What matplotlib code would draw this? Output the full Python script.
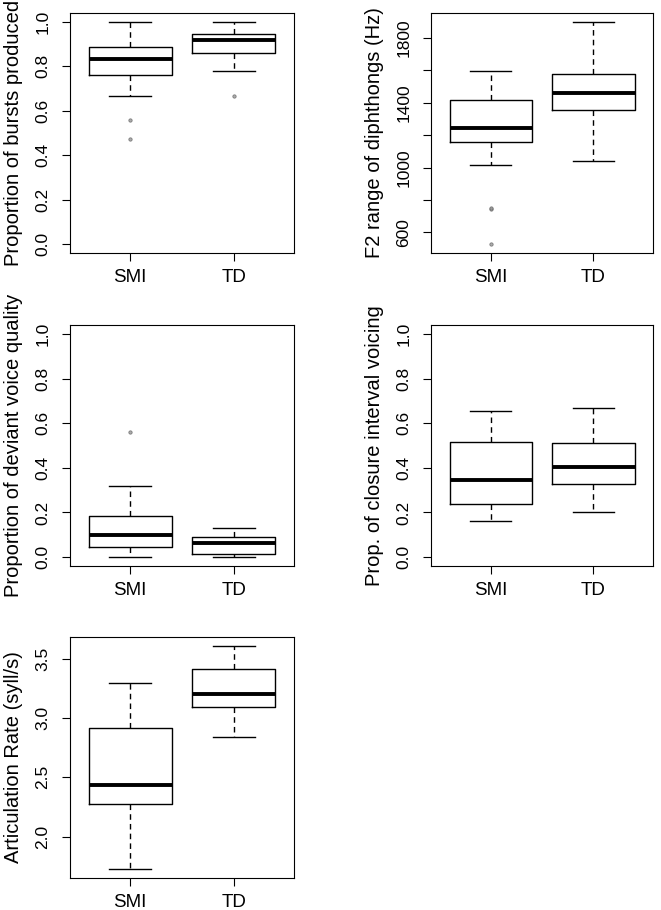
"""Boxplots of speech measures, SMI vs TD groups."""

import matplotlib

matplotlib.use("Agg")
import matplotlib.pyplot as plt

GROUPS = ["SMI", "TD"]

# lower whisker, Q1, median, Q3, upper whisker
bursts_smi = [0.666, 0.763, 0.831, 0.886, 1.0]
bursts_td = [0.781, 0.861, 0.917, 0.946, 1.0]
bursts_out_smi = [0.558, 0.475]
bursts_out_td = [0.666]

f2_smi = [1018, 1157, 1245, 1418, 1598]
f2_td = [1041, 1355, 1463, 1579, 1899]
f2_out_smi = [745, 747, 526]
f2_out_td = []

voice_smi = [0.0, 0.045, 0.098, 0.182, 0.319]
voice_td = [0.0, 0.015, 0.065, 0.090, 0.130]
voice_out_smi = [0.562]
voice_out_td = []

closure_smi = [0.161, 0.240, 0.346, 0.516, 0.654]
closure_td = [0.201, 0.326, 0.405, 0.510, 0.666]
closure_out_smi = []
closure_out_td = []

artic_smi = [1.726, 2.271, 2.432, 2.913, 3.30]
artic_td = [2.839, 3.096, 3.203, 3.413, 3.61]
artic_out_smi = []
artic_out_td = []

prop_ticks = [0.0, 0.2, 0.4, 0.6, 0.8, 1.0]
prop_labels = ["0.0", "0.2", "0.4", "0.6", "0.8", "1.0"]
f2_ticks = [600, 800, 1000, 1200, 1400, 1600, 1800]
f2_labels = ["600", "", "1000", "", "1400", "", "1800"]
artic_ticks = [2.0, 2.5, 3.0, 3.5]
artic_labels = ["2.0", "2.5", "3.0", "3.5"]

FONT = ["Liberation Sans", "DejaVu Sans"]
W, H = 661, 910


def to_stats(summary, fliers, label):
    lo, q1, med, q3, hi = summary
    return {"whislo": lo, "q1": q1, "med": med, "q3": q3, "whishi": hi,
            "fliers": fliers, "label": label}


def draw_panel(ax, summaries, outliers, ylabel, ylim, ticks, labels):
    stats = [to_stats(s, o, g) for s, o, g in zip(summaries, outliers, GROUPS)]
    ax.bxp(
        stats,
        positions=[1, 2],
        widths=0.8,
        boxprops={"color": "black", "linewidth": 1.0},
        whiskerprops={"color": "black", "linewidth": 1.0, "linestyle": (0, (4, 3))},
        capprops={"color": "black", "linewidth": 1.0},
        medianprops={"color": "black", "linewidth": 2.8, "solid_capstyle": "butt"},
        flierprops={"marker": "o", "markersize": 2.4, "markerfacecolor": "#999999",
                    "markeredgecolor": "#666666", "markeredgewidth": 0.6, "alpha": 0.8},
        manage_ticks=False,
    )
    ax.set_xlim(0.42, 2.58)
    ax.set_ylim(*ylim)
    ax.set_xticks([1, 2], GROUPS)
    ax.set_yticks(ticks, labels)
    for lab in ax.get_xticklabels():
        lab.set_family(FONT)
        lab.set_fontsize(13.5)
    for lab in ax.get_yticklabels():
        lab.set_family(FONT)
        lab.set_fontsize(12.5)
        lab.set_rotation(90)
        lab.set_va("center")
    ax.tick_params(axis="both", direction="out", length=6, width=0.8, color="black")
    ax.tick_params(axis="x", pad=5.5)
    ax.tick_params(axis="y", pad=8)
    for sp in ax.spines.values():
        sp.set_linewidth(0.8)
        sp.set_color("black")
    ax.set_ylabel(ylabel, family=FONT, fontsize=14.5, labelpad=9)


def px_axes(fig, left, top, right, bottom):
    return fig.add_axes([left / W, 1 - bottom / H, (right - left) / W, (bottom - top) / H])


def main() -> None:
    fig = plt.figure(figsize=(W / 100, H / 100), dpi=100)

    ax1 = px_axes(fig, 70, 13, 294, 253)
    draw_panel(ax1, [bursts_smi, bursts_td], [bursts_out_smi, bursts_out_td],
               "Proportion of bursts produced", (-0.04, 1.04), prop_ticks, prop_labels)

    ax2 = px_axes(fig, 431, 13, 653, 253)
    draw_panel(ax2, [f2_smi, f2_td], [f2_out_smi, f2_out_td],
               "F2 range of diphthongs (Hz)", (472, 1955), f2_ticks, f2_labels)

    ax3 = px_axes(fig, 70, 325, 294, 566)
    draw_panel(ax3, [voice_smi, voice_td], [voice_out_smi, voice_out_td],
               "Proportion of deviant voice quality", (-0.04, 1.04), prop_ticks, prop_labels)

    ax4 = px_axes(fig, 431, 325, 653, 566)
    draw_panel(ax4, [closure_smi, closure_td], [closure_out_smi, closure_out_td],
               "Prop. of closure interval voicing", (-0.04, 1.04), prop_ticks, prop_labels)

    ax5 = px_axes(fig, 70, 637, 294, 878)
    draw_panel(ax5, [artic_smi, artic_td], [artic_out_smi, artic_out_td],
               "Articulation Rate (syll/s)", (1.65, 3.685), artic_ticks, artic_labels)

    fig.savefig("out.png", dpi=100)


if __name__ == "__main__":
    main()
